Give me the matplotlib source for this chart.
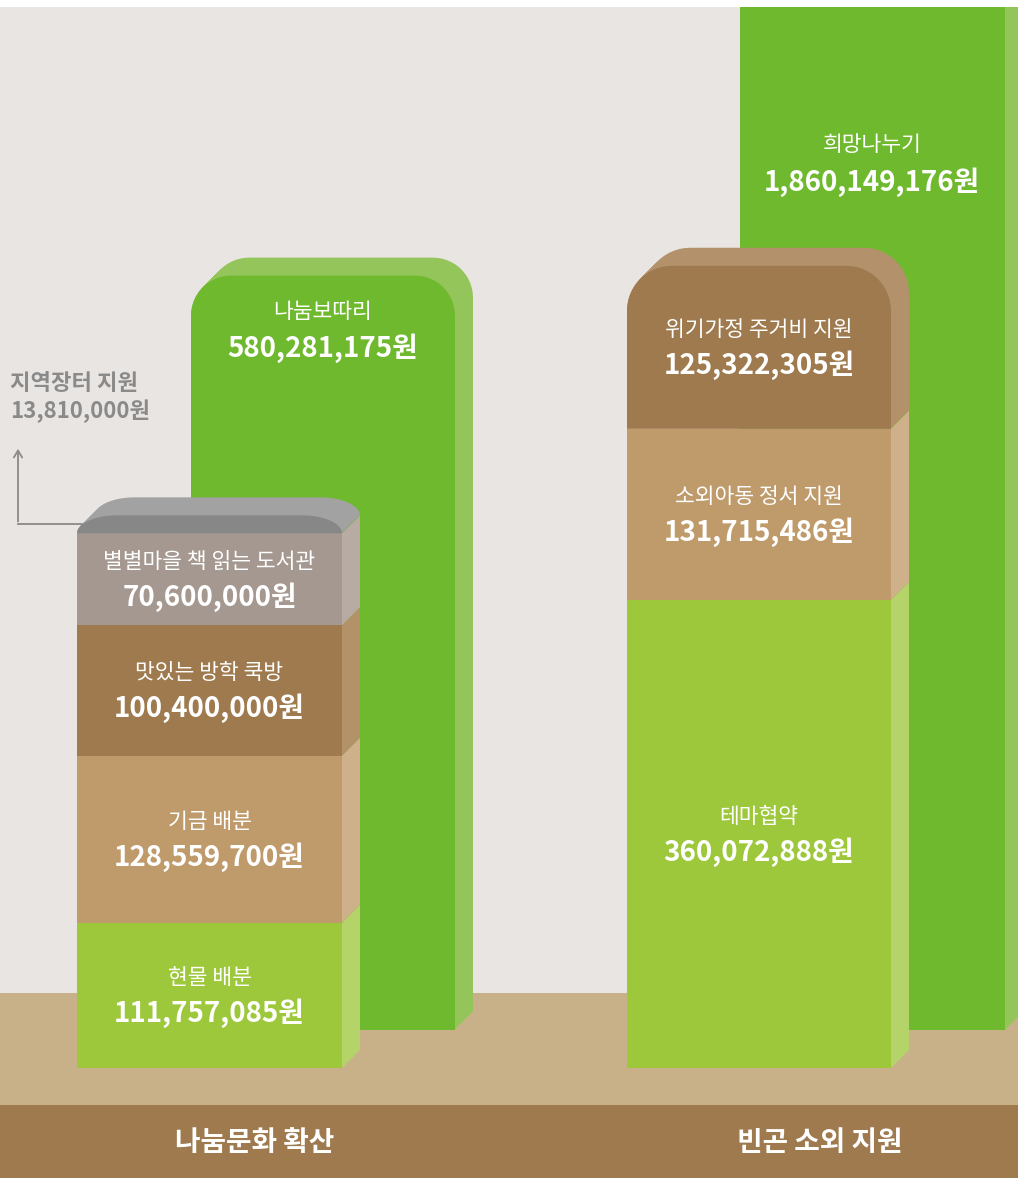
import numpy as np
import matplotlib.pyplot as plt
from matplotlib.patches import Polygon, Rectangle

plt.rcParams['font.family'] = ['Noto Sans CJK KR', 'DejaVu Sans']

# ---- data (won) ----
left_names = ['현물 배분', '기금 배분', '맛있는 방학 쿡방', '별별마을 책 읽는 도서관', '지역장터 지원']
left_values = [111757085, 128559700, 100400000, 70600000, 13810000]
right_names = ['테마협약', '소외아동 정서 지원', '위기가정 주거비 지원']
right_values = [360072888, 131715486, 125322305]
mid_name = '나눔보따리'
mid_value = 580281175
tall_name = '희망나누기'
tall_value = 1860149176
groups = ['나눔문화 확산', '빈곤 소외 지원']

# ---- colours ----
left_front = ['#9dc83b', '#bf9b6c', '#9e7a4e', '#a59890', '#878787']
left_side = ['#b4d46a', '#ceb08a', '#b39169', '#b8aba4', '#a2a2a2']
right_front = ['#9dc83b', '#bf9b6c', '#9e7a4e']
right_side = ['#b4d46a', '#ceb08a', '#b3916a']
green, green_side = '#6fb92e', '#93c55a'
bg, floor, band = '#e9e5e2', '#c8b088', '#9f7a4e'
grey_txt = '#8a8a8a'

W, H = 1018, 1178
S = 1.3          # pixels per million won
BASE_PX = 1068   # pixel row of the front stacks' base
DX, DY = 18, 18 / S


def row(p):
    # pixel row -> data y (million won)
    return (BASE_PX - p) / S


def top_shape(x0, y0, w, h, r=40, n=14):
    rx, ry = r, min(r / S, h)
    t1 = np.linspace(np.pi, np.pi / 2, n)
    t2 = np.linspace(np.pi / 2, 0, n)
    cy = y0 + h - ry
    pts = [(x0, y0)]
    pts += list(zip(x0 + rx + rx * np.cos(t1), cy + ry * np.sin(t1)))
    pts += list(zip(x0 + w - rx + rx * np.cos(t2), cy + ry * np.sin(t2)))
    pts.append((x0 + w, y0))
    return pts


def draw_stack(ax, x0, w, base, values, fronts, sides, rounded=True, r=40, z=2):
    vals = np.array(values) / 1e6
    bottoms = base + np.concatenate([[0], np.cumsum(vals)[:-1]])
    for i, (y0, h) in enumerate(zip(bottoms, vals)):
        if rounded and i == len(vals) - 1:
            for k in np.linspace(0, 1, 19):
                ax.add_patch(Polygon(top_shape(x0 + k * DX, y0 + k * DY, w, h, r),
                                     fc=sides[i], lw=0, zorder=z))
            ax.add_patch(Polygon(top_shape(x0, y0, w, h, r), fc=fronts[i], lw=0, zorder=z + 0.1))
        else:
            ax.add_patch(Rectangle((x0, y0), w, h, fc=fronts[i], lw=0, zorder=z + 0.1))
            ax.add_patch(Polygon([(x0 + w, y0), (x0 + w + DX, y0 + DY),
                                  (x0 + w + DX, y0 + h + DY), (x0 + w, y0 + h)],
                                 fc=sides[i], lw=0, zorder=z))
    return bottoms, vals


fig = plt.figure(figsize=(W / 100, H / 100), dpi=100)
ax = fig.add_axes([0, 0, 1, 1])
ax.set_xlim(0, W)
ax.set_ylim(row(H), row(0))
ax.axis('off')

# background, floor, bottom band
ax.add_patch(Rectangle((0, row(993)), W, row(7) - row(993), fc=bg, lw=0, zorder=0))
ax.add_patch(Rectangle((0, row(1105)), W, row(993) - row(1105), fc=floor, lw=0, zorder=0))
ax.add_patch(Rectangle((0, row(H)), W, row(1105) - row(H), fc=band, lw=0, zorder=0))

# back bars
back_base = row(1030)
mb, mv = draw_stack(ax, 191, 264, back_base, [mid_value], [green], [green_side], rounded=True, z=2)
draw_stack(ax, 740, 265, back_base, [tall_value], [green], [green_side], rounded=False, z=2)
ax.add_patch(Rectangle((0, row(7)), W, row(0) - row(7), fc='white', lw=0, zorder=10))

# front stacks
lb, lv = draw_stack(ax, 77, 265, 0, left_values, left_front, left_side, rounded=True, z=4)
rb, rv = draw_stack(ax, 627, 264, 0, right_values, right_front, right_side, rounded=True, r=45, z=4)

name_kw = dict(color='white', fontsize=15.5, fontweight='medium', ha='center', va='center', zorder=12)
val_kw = dict(color='white', fontsize=20, fontweight='bold', ha='center', va='center', zorder=12)

for names, values, bots, hs, xc in [(left_names[:-1], left_values[:-1], lb, lv, 77 + 265 / 2),
                                     (right_names, right_values, rb, rv, 627 + 264 / 2)]:
    for nm, v, y0, h in zip(names, values, bots, hs):
        c = y0 + h / 2
        ax.text(xc, c + 17 / S, nm, **name_kw)
        ax.text(xc, c - 18 / S, f'{v:,}원', **val_kw)

mtop = mb[0] + mv[0]
ax.text(191 + 132, mtop - 36 / S, mid_name, **name_kw)
ax.text(191 + 132, mtop - 73 / S, f'{mid_value:,}원', **val_kw)
ax.text(740 + 132, row(145), tall_name, **name_kw)
ax.text(740 + 132, row(182), f'{tall_value:,}원', **val_kw)

# small segment call-out
cap_mid = lb[-1] + lv[-1] / 2
ax.plot([18, 95], [cap_mid, cap_mid], color=grey_txt, lw=1.3, zorder=3)
ax.annotate('', xy=(18, row(446)), xytext=(18, cap_mid),
            arrowprops=dict(arrowstyle='->,head_length=0.5,head_width=0.3', color=grey_txt, lw=1.3),
            zorder=3)
ax.text(10, row(383), left_names[-1], color=grey_txt, fontsize=16, fontweight='bold', ha='left', va='center')
ax.text(10, row(411), f'{left_values[-1]:,}원', color=grey_txt, fontsize=16, fontweight='bold',
        ha='left', va='center')

# group labels
for g, xc in zip(groups, [255, 820]):
    ax.text(xc, row(1143), g, color='white', fontsize=20, fontweight='bold', ha='center', va='center', zorder=12)

fig.savefig('out.png', dpi=100)
